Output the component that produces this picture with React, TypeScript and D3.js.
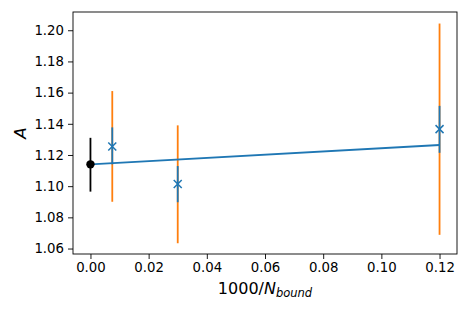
import * as d3 from "d3";
import { useEffect, useRef } from "react";

// measured points: x = 1000/N_bound, a = A, blue (statistical) and orange (total) half-widths
const xs = [0.0075, 0.03, 0.12];
const aVals = [1.1255, 1.1014, 1.1366];
const errBlueLo = [0.0115, 0.0117, 0.0152];
const errBlueHi = [0.0122, 0.0115, 0.0149];
const errOrangeLo = [0.0355, 0.038, 0.0678];
const errOrangeHi = [0.0355, 0.0376, 0.0677];

// extrapolated value at 1000/N = 0
const extrapX = 0;
const extrapA = 1.114;
const extrapErrLo = 0.0175;
const extrapErrHi = 0.017;

// fit line end points
const fitX = [0, 0.12];
const fitA = [1.114, 1.1264];

const xTicks = [0, 0.02, 0.04, 0.06, 0.08, 0.1, 0.12];
const yTicks = [1.06, 1.08, 1.1, 1.12, 1.14, 1.16, 1.18, 1.2];

const W = 469;
const H = 313;
const margin = { top: 12, right: 12, bottom: 59, left: 73 };

const App = () => {
  const ref = useRef<SVGSVGElement>(null);

  useEffect(() => {
    const svg = d3.select(ref.current);
    svg.selectAll("*").remove();

    const width = W - margin.left - margin.right;
    const height = H - margin.top - margin.bottom;

    const x = d3.scaleLinear().domain([-0.006, 0.126]).range([0, width]);
    const y = d3.scaleLinear().domain([1.0565, 1.2117]).range([height, 0]);

    const g = svg
      .append("g")
      .attr("transform", "translate(" + margin.left + "," + margin.top + ")");

    const font = "'DejaVu Sans', sans-serif";

    // x axis
    const xAxis = g
      .append("g")
      .attr("transform", "translate(0," + height + ")")
      .call(
        d3
          .axisBottom(x)
          .tickValues(xTicks)
          .tickFormat(d3.format(".2f"))
          .tickSize(5)
          .tickPadding(4),
      );
    xAxis.select(".domain").remove();
    xAxis
      .selectAll("text")
      .attr("font-family", font)
      .attr("font-size", 13.3)
      .attr("fill", "#000");
    xAxis.selectAll("line").attr("stroke", "#000").attr("stroke-width", 0.9);

    // y axis
    const yAxis = g
      .append("g")
      .call(
        d3
          .axisLeft(y)
          .tickValues(yTicks)
          .tickFormat(d3.format(".2f"))
          .tickSize(5)
          .tickPadding(4),
      );
    yAxis.select(".domain").remove();
    yAxis
      .selectAll("text")
      .attr("font-family", font)
      .attr("font-size", 13.3)
      .attr("fill", "#000");
    yAxis.selectAll("line").attr("stroke", "#000").attr("stroke-width", 0.9);

    // frame
    g.append("rect")
      .attr("x", 0)
      .attr("y", 0)
      .attr("width", width)
      .attr("height", height)
      .attr("fill", "none")
      .attr("stroke", "#000")
      .attr("stroke-width", 0.9);

    // orange error bars
    xs.forEach((xv, i) => {
      g.append("line")
        .attr("x1", x(xv))
        .attr("x2", x(xv))
        .attr("y1", y(aVals[i] - errOrangeLo[i]))
        .attr("y2", y(aVals[i] + errOrangeHi[i]))
        .attr("stroke", "#ff7f0e")
        .attr("stroke-width", 1.8);
    });

    // blue error bars
    xs.forEach((xv, i) => {
      g.append("line")
        .attr("x1", x(xv))
        .attr("x2", x(xv))
        .attr("y1", y(aVals[i] - errBlueLo[i]))
        .attr("y2", y(aVals[i] + errBlueHi[i]))
        .attr("stroke", "#1f77b4")
        .attr("stroke-width", 1.8);
    });

    // x markers
    const s = 4;
    xs.forEach((xv, i) => {
      const cx = x(xv);
      const cy = y(aVals[i]);
      g.append("path")
        .attr(
          "d",
          `M${cx - s},${cy - s}L${cx + s},${cy + s}M${cx - s},${cy + s}L${cx + s},${cy - s}`,
        )
        .attr("stroke", "#1f77b4")
        .attr("stroke-width", 1.5)
        .attr("fill", "none");
    });

    // fit line
    const line = d3
      .line<number>()
      .x((d) => x(fitX[d]))
      .y((d) => y(fitA[d]));
    g.append("path")
      .attr("d", line([0, 1]))
      .attr("stroke", "#1f77b4")
      .attr("stroke-width", 1.8)
      .attr("fill", "none");

    // extrapolated point
    g.append("line")
      .attr("x1", x(extrapX))
      .attr("x2", x(extrapX))
      .attr("y1", y(extrapA - extrapErrLo))
      .attr("y2", y(extrapA + extrapErrHi))
      .attr("stroke", "#000")
      .attr("stroke-width", 1.8);
    g.append("circle")
      .attr("cx", x(extrapX))
      .attr("cy", y(extrapA))
      .attr("r", 4.2)
      .attr("fill", "#000");

    // axis labels
    const xl = svg
      .append("text")
      .attr("x", margin.left + width / 2)
      .attr("y", 294)
      .attr("text-anchor", "middle")
      .attr("font-family", font)
      .attr("font-size", 16)
      .attr("fill", "#000");
    xl.append("tspan").text("1000/");
    xl.append("tspan").attr("font-style", "italic").text("N");
    xl.append("tspan")
      .attr("font-style", "italic")
      .attr("font-size", 11.5)
      .attr("dy", 3)
      .text("bound");

    svg
      .append("text")
      .attr("transform", "translate(26," + (margin.top + height / 2) + ") rotate(-90)")
      .attr("text-anchor", "middle")
      .attr("font-family", font)
      .attr("font-size", 16.5)
      .attr("font-style", "italic")
      .attr("fill", "#000")
      .text("A");
  }, []);

  return (
    <svg
      ref={ref}
      width={W}
      height={H}
      style={{ position: "absolute", left: 0, top: 0, background: "#fff" }}
    />
  );
};

export default App;
